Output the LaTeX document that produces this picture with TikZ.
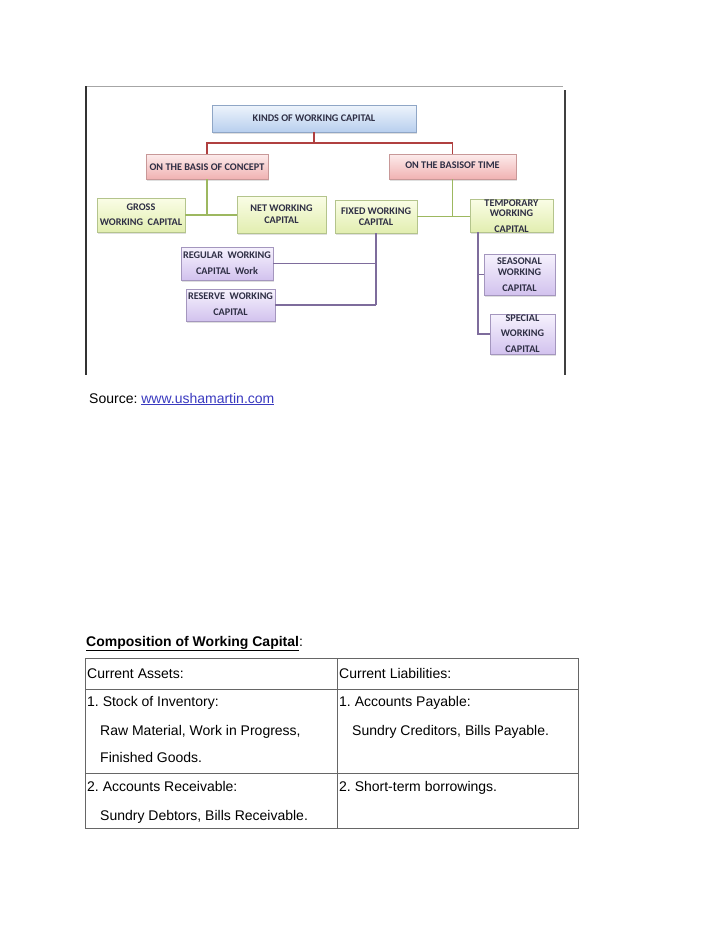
\documentclass[tikz,border=0pt]{standalone}
\usepackage{fontspec}
\setmainfont{Liberation Sans}
\newfontfamily\carlito{Carlito}
\usetikzlibrary{shadows,calc}
\definecolor{boxtext}{HTML}{2E2E44}
\definecolor{bluetop}{HTML}{EEF4FC}
\definecolor{bluebot}{HTML}{B8CFEE}
\definecolor{blueborder}{HTML}{8FA6C6}
\definecolor{pinktop}{HTML}{FDECEC}
\definecolor{pinkbot}{HTML}{F0B2B2}
\definecolor{pinkborder}{HTML}{C89898}
\definecolor{greentop}{HTML}{FAFDE6}
\definecolor{greenbot}{HTML}{E2EEB0}
\definecolor{greenborder}{HTML}{B4C48C}
\definecolor{purptop}{HTML}{F6F2FD}
\definecolor{purpbot}{HTML}{D2C2EE}
\definecolor{purpborder}{HTML}{A496BE}
\definecolor{redline}{HTML}{B04040}
\definecolor{greenline}{HTML}{9DB860}
\definecolor{purpline}{HTML}{7E6C9C}
\definecolor{linkblue}{HTML}{3A3AC0}
\frenchspacing
\begin{document}
\begin{tikzpicture}[x=1pt,y=-1pt,
  box/.style={draw, line width=0.8pt, inner sep=0pt,
    drop shadow={opacity=0.25,shadow xshift=1pt,shadow yshift=-1.5pt}},
  bluebox/.style={box, draw=blueborder, top color=bluetop, bottom color=bluebot},
  pinkbox/.style={box, draw=pinkborder, top color=pinktop, bottom color=pinkbot},
  greenbox/.style={box, draw=greenborder, top color=greentop, bottom color=greenbot},
  purpbox/.style={box, draw=purpborder, top color=purptop, bottom color=purpbot},
  lab/.style={font=\carlito\bfseries\fontsize{10.2}{#1}\selectfont, text=boxtext, align=center, inner sep=0pt},
  lab/.default=12,
  conn/.style={line width=1.9pt},
  txt/.style={font=\fontsize{14}{16}\selectfont, anchor=base west, inner sep=0pt},
  grid/.style={draw=black!60, line width=0.9pt}
]
\fill[white] (0,0) rectangle (728,943);
\useasboundingbox (0,0) rectangle (728,943);

% frame of the picture
\draw[gray!70, line width=1pt] (86,86) -- (563,86);
\draw[black!80, line width=2pt] (86,86) -- (86,375);
\draw[black!75, line width=1.5pt] (565,90) -- (565,375);

% boxes
\node[bluebox, minimum width=204pt, minimum height=27pt] (kinds) at (314,118.5) {};
\node[pinkbox, minimum width=122pt, minimum height=25pt] (concept) at (207,166.5) {};
\node[pinkbox, minimum width=127pt, minimum height=25pt] (time) at (452.5,166.5) {};
\node[greenbox, minimum width=88pt, minimum height=34pt] (gross) at (141,215) {};
\node[greenbox, minimum width=89pt, minimum height=37pt] (net) at (281.5,214.5) {};
\node[greenbox, minimum width=82pt, minimum height=33pt] (fixed) at (376,216.5) {};
\node[greenbox, minimum width=83pt, minimum height=33pt] (temp) at (511.5,215.5) {};
\node[purpbox, minimum width=92pt, minimum height=33pt] (regular) at (227,263.5) {};
\node[purpbox, minimum width=89pt, minimum height=32pt] (reserve) at (230.5,305) {};
\node[purpbox, minimum width=71pt, minimum height=41pt] (seasonal) at (519.5,274.5) {};
\node[purpbox, minimum width=65pt, minimum height=40pt] (special) at (522.5,334) {};

% labels
\node[lab] (kinds-t) at (314,118) {KINDS OF WORKING CAPITAL};
\node[lab] (concept-t) at (207,167) {ON THE BASIS OF CONCEPT};
\node[lab] (time-t) at (452.5,165.5) {ON THE BASISOF TIME};
\node[lab=15] (gross-t) at (141,214.5) {GROSS\\WORKING\ \ CAPITAL};
\node[lab=12] (net-t) at (281.5,214) {NET WORKING\\CAPITAL};
\node[lab=11.5] (fixed-t) at (376,216.5) {FIXED WORKING\\CAPITAL};
\node[lab=10] (temp-t) at (511.5,216) {TEMPORARY\\WORKING\\[6pt]CAPITAL};
\node[lab=16] (regular-t) at (227,263) {REGULAR\ \ WORKING\\CAPITAL\ \ Work};
\node[lab=16] (reserve-t) at (230.5,304) {RESERVE\ \ WORKING\\CAPITAL};
\node[lab=11] (seasonal-t) at (519.5,274.5) {SEASONAL\\WORKING\\[5pt]CAPITAL};
\node[lab=15.5] (special-t) at (522.5,333.5) {SPECIAL\\WORKING\\CAPITAL};

% connectors
\coordinate (rb) at (314,143);
\draw[conn, redline] (kinds.south) -- (rb);
\draw[conn, redline] (concept.north) |- (rb) -| (time.north);
\draw[conn, greenline] (concept.south) -- (concept.south |- gross.east);
\draw[conn, greenline] (gross.east) -- (gross.east -| net.west);
\draw[conn, greenline] (time.south) -- (time.south |- temp.west);
\draw[conn, greenline] (fixed.east) -- (fixed.east -| temp.west);
\draw[conn, purpline] (fixed.south) -- (fixed.south |- reserve.east);
\draw[conn, purpline] (regular.east) -- (regular.east -| fixed.south);
\draw[conn, purpline] (reserve.east) -- (reserve.east -| fixed.south);
\coordinate (tv) at ($(temp.south west)+(8,0)$);
\draw[conn, purpline] (tv) |- (special.west);
\draw[conn, purpline] (seasonal.west) -- (seasonal.west -| tv);

% source line
\node[txt] (src) at (89,403) {Source: \textcolor{linkblue}{\underline{www.ushamartin.com}}};

% composition table
\node[txt] (comp) at (86,646) {\textbf{\underline{Composition of Working Capital}}:};
\coordinate (tl) at (85,658);
\coordinate (tr) at (578,658);
\coordinate (bl) at (85,828);
\coordinate (br) at (578,828);
\coordinate (mt) at (337,658);
\coordinate (mb) at (337,828);
\draw[grid] (tl) rectangle (br);
\draw[grid] (mt) -- (mb);
\draw[grid] (85,689) -- (578,689);
\draw[grid] (85,773) -- (578,773);

\node[txt] (ca) at (87,678) {Current Assets:};
\node[txt] (cl) at (339,678) {Current Liabilities:};
\node[txt] (a1) at (87,706) {1. Stock of Inventory:};
\node[txt] (a1a) at (100,735) {Raw Material, Work in Progress,};
\node[txt] (a1b) at (100,762) {Finished Goods.};
\node[txt] (l1) at (339,706) {1. Accounts Payable:};
\node[txt] (l1a) at (352,735) {Sundry Creditors, Bills Payable.};
\node[txt] (a2) at (87,791) {2. Accounts Receivable:};
\node[txt] (a2a) at (100,820) {Sundry Debtors, Bills Receivable.};
\node[txt] (l2) at (339,791) {2. Short-term borrowings.};
\end{tikzpicture}
\end{document}
